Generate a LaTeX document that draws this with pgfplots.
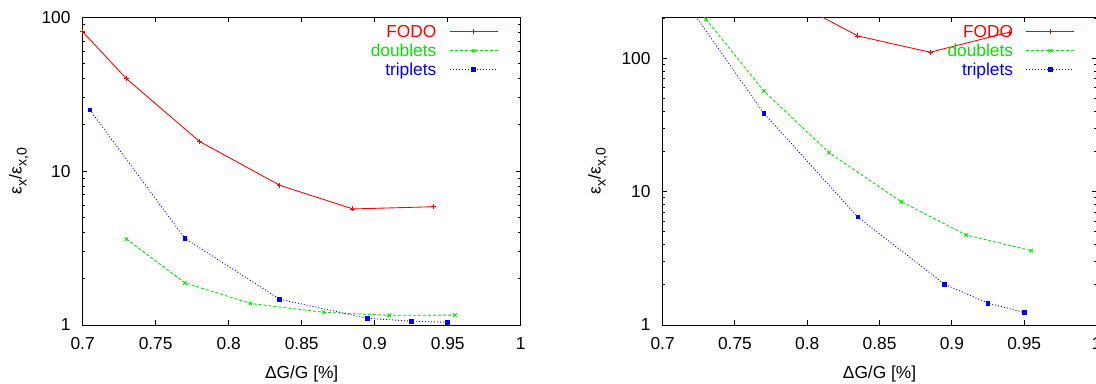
\documentclass[border=0pt]{standalone}
\usepackage{pgfplots}
\pgfplotsset{compat=1.18}
\usepackage{fontspec}
\setmainfont{Liberation Sans}
\definecolor{gpred}{RGB}{255,0,0}
\definecolor{gpgreen}{RGB}{0,228,0}
\definecolor{gpblue}{RGB}{0,0,255}
\newcommand{\fs}{\fontsize{13}{15.5}\selectfont}
\newcommand{\subx}[1]{\raisebox{-0.28em}{\fontsize{10.5}{12}\selectfont #1}}
\pgfplotsset{
  every axis/.append style={
    scale only axis, height=230.8pt,
    xmin=0.7, xmax=1,
    xtick={0.7,0.75,0.8,0.85,0.9,0.95,1},
    xticklabels={0.7,0.75,0.8,0.85,0.9,0.95,1},
    ytick={1,10,100}, yticklabels={1,10,100},
    axis line style={line width=0.75pt, black},
    every tick/.style={black, line width=0.75pt},
    major tick length=3.4pt, minor tick length=2pt,
    tick align=inside,
    tick label style={font=\fs},
    label style={font=\fs},
    xticklabel style={anchor=base, inner sep=0pt, yshift=-18.5pt},
    yticklabel style={anchor=east, inner sep=0pt, xshift=-8.9pt},
    xlabel style={at={(axis description cs:0.5,0)}, anchor=base, inner sep=0pt, yshift=-40pt},
    legend plot pos=right,
    legend cell align=right,
    legend style={draw=none, fill=none, inner sep=0pt, outer sep=0pt,
      anchor=north east, column sep=9.6pt, row sep=0pt, font=\fs,
      nodes={inner sep=0pt, text height=11.8pt, text depth=2.45pt}},
  },
}
\tikzset{
  fodo/.style={gpred, line width=0.65pt, mark=+, mark size=1.9pt},
  doub/.style={gpgreen, line width=0.65pt, dash pattern=on 2.25pt off 1.5pt, mark=x, mark size=1.9pt, mark options={solid}},
  trip/.style={gpblue, line width=0.65pt, dash pattern=on 0.75pt off 1.5pt, mark=square*, mark size=1.4pt, mark options={solid}},
}
\pgfplotsset{
  limg/.style={legend image code/.code={\draw[mark repeat=2,mark phase=2,#1] plot coordinates {(0pt,0pt) (18pt,0pt) (36pt,0pt)};}},
}
\begin{document}
\begin{tikzpicture}
\useasboundingbox (0,0) rectangle (822pt,287.25pt);
% left panel
\begin{axis}[ymode=log, at={(61.95pt,43.5pt)}, anchor=south west, width=328.65pt,
  ymin=1, ymax=100,
  minor ytick={2,3,4,5,6,7,8,9,20,30,40,50,60,70,80,90},
  xlabel={ΔG/G [\%]},
  ylabel={ε\subx{x}/ε\subx{x,0}},
  ylabel style={at={(axis description cs:-0.139,0.5)}, anchor=base, inner sep=0pt},
  legend style={at={(0.948,0.984)}}]
\addplot[fodo, limg=fodo] coordinates {(0.70,80.6) (0.73,39.9) (0.78,15.6) (0.835,8.09) (0.885,5.68) (0.94,5.87)};
\addlegendentry{\textcolor{gpred}{FODO}}
\addplot[doub, limg=doub] coordinates {(0.73,3.62) (0.77,1.88) (0.815,1.38) (0.865,1.21) (0.91,1.156) (0.955,1.16)};
\addlegendentry{\textcolor{gpgreen}{doublets}}
\addplot[trip, limg=trip] coordinates {(0.705,25.0) (0.77,3.66) (0.835,1.47) (0.895,1.105) (0.925,1.06) (0.95,1.04)};
\addlegendentry{\textcolor{gpblue}{triplets}}
\end{axis}
% right panel
\begin{axis}[ymode=log, at={(496.95pt,43.5pt)}, anchor=south west, width=325.4pt,
  ymin=1, ymax=203,
  minor ytick={2,3,4,5,6,7,8,9,20,30,40,50,60,70,80,90,200},
  xlabel={ΔG/G [\%]},
  ylabel={ε\subx{x}/ε\subx{x,0}},
  ylabel style={at={(axis description cs:-0.1427,0.5)}, anchor=base, inner sep=0pt},
  legend style={at={(0.950,0.984)}}]
\addplot[fodo, limg=fodo] coordinates {(0.78,305) (0.835,147) (0.885,111) (0.94,157)};
\addlegendentry{\textcolor{gpred}{FODO}}
\addplot[doub, limg=doub] coordinates {(0.73,196) (0.77,56.9) (0.815,19.6) (0.865,8.41) (0.91,4.73) (0.955,3.61)};
\addlegendentry{\textcolor{gpgreen}{doublets}}
\addplot[trip, limg=trip] coordinates {(0.705,390) (0.77,38.7) (0.835,6.45) (0.895,2.02) (0.925,1.46) (0.95,1.24)};
\addlegendentry{\textcolor{gpblue}{triplets}}
\end{axis}
\end{tikzpicture}
\end{document}
